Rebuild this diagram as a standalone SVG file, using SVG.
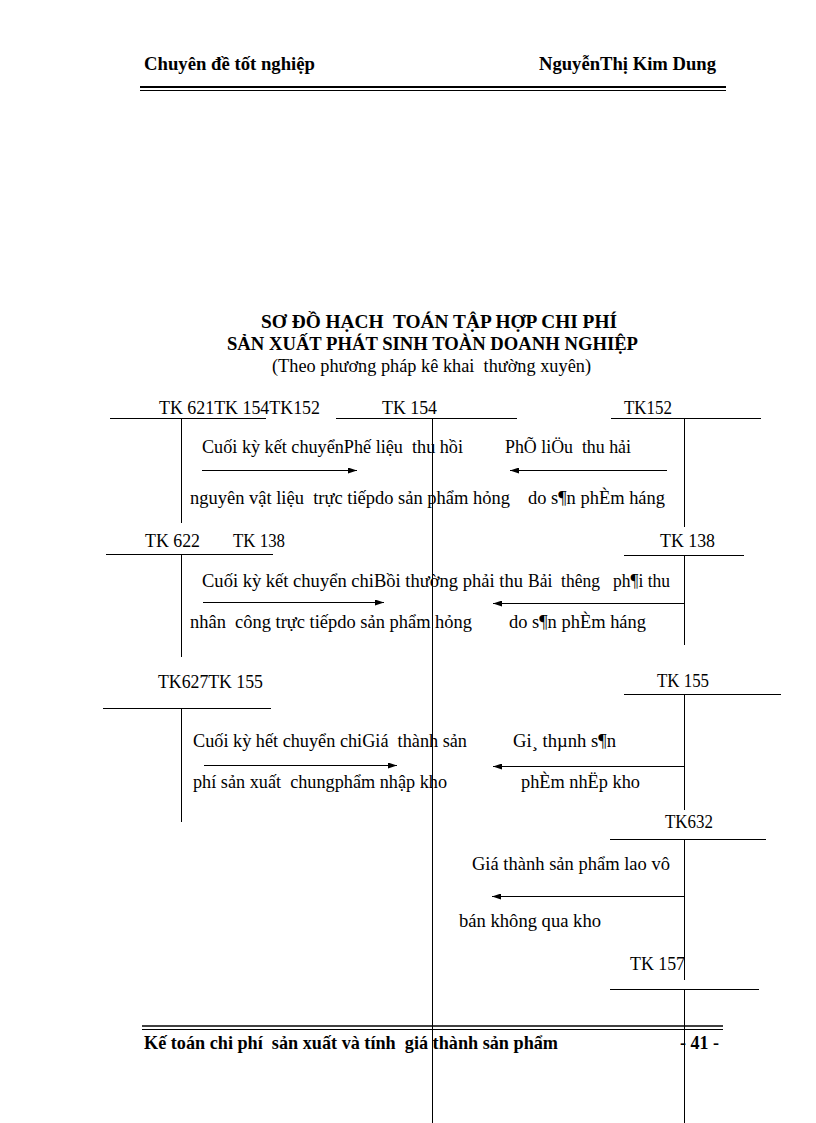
<svg xmlns="http://www.w3.org/2000/svg" width="816" height="1123" viewBox="0 0 816 1123">
<style>
text { fill: #000; white-space: pre; }
.b { font-weight: bold; font-size: 19px; }
.t { font-weight: bold; font-size: 18px; }
.r { font-size: 18px; }
.ln { stroke: #000; stroke-width: 1; fill: none; }
.ar { stroke: #000; stroke-width: 1; fill: none; marker-end: url(#ah); }
</style>
<defs>
<marker id="ah" markerWidth="9" markerHeight="6" refX="9" refY="3" orient="auto" markerUnits="userSpaceOnUse"><path d="M0,0 L9,3 L0,6 z" fill="#000"/></marker>
</defs>
<rect width="816" height="1123" fill="#fff"/>
<g font-family="'Liberation Serif', 'DejaVu Serif', serif">
<g id="header">
<text class="b" x="144" y="70" textLength="171" lengthAdjust="spacingAndGlyphs">Chuyên đề tốt nghiệp</text>
<text class="b" x="539" y="70" textLength="177" lengthAdjust="spacingAndGlyphs">NguyễnThị Kim Dung</text>
<line x1="140" y1="87" x2="726" y2="87" stroke="#000" stroke-width="2"/>
<line x1="140" y1="90.5" x2="726" y2="90.5" stroke="#000" stroke-width="1"/>
</g>
<g id="title">
<text class="t" x="261" y="328" textLength="356" lengthAdjust="spacingAndGlyphs">SƠ ĐỒ HẠCH  TOÁN TẬP HỢP CHI PHÍ</text>
<text class="t" x="227" y="350" textLength="411" lengthAdjust="spacingAndGlyphs">SẢN XUẤT PHÁT SINH TOÀN DOANH NGHIỆP</text>
<text class="r" x="272" y="372" textLength="319" lengthAdjust="spacingAndGlyphs">(Theo phương pháp kê khai  thường xuyên)</text>
</g>
<g id="tk621">
<line class="ln" x1="110" y1="418.5" x2="266" y2="418.5"/>
<line class="ln" x1="181.5" y1="418" x2="181.5" y2="523"/>
<text class="r" x="159" y="414" textLength="161" lengthAdjust="spacingAndGlyphs">TK 621TK 154TK152</text>
</g>
<g id="tk154">
<line class="ln" x1="336" y1="418.5" x2="517" y2="418.5"/>
<line class="ln" x1="432.5" y1="418" x2="432.5" y2="1123"/>
<text class="r" x="382" y="414" textLength="55" lengthAdjust="spacingAndGlyphs">TK 154</text>
</g>
<g id="tk152">
<line class="ln" x1="611" y1="418.5" x2="761" y2="418.5"/>
<line class="ln" x1="684.5" y1="418" x2="684.5" y2="527"/>
<text class="r" x="624" y="414" textLength="48" lengthAdjust="spacingAndGlyphs">TK152</text>
</g>
<g id="tk622">
<line class="ln" x1="106" y1="554.5" x2="273" y2="554.5"/>
<line class="ln" x1="181.5" y1="554" x2="181.5" y2="657"/>
<text class="r" x="145" y="547" textLength="55" lengthAdjust="spacingAndGlyphs">TK 622</text>
<text class="r" x="233" y="547" textLength="52" lengthAdjust="spacingAndGlyphs">TK 138</text>
</g>
<g id="tk138">
<line class="ln" x1="624" y1="555.5" x2="744" y2="555.5"/>
<line class="ln" x1="684.5" y1="555" x2="684.5" y2="645"/>
<text class="r" x="660" y="547" textLength="55" lengthAdjust="spacingAndGlyphs">TK 138</text>
</g>
<g id="tk627">
<line class="ln" x1="103" y1="708.5" x2="271" y2="708.5"/>
<line class="ln" x1="181.5" y1="708" x2="181.5" y2="822"/>
<text class="r" x="158" y="688" textLength="105" lengthAdjust="spacingAndGlyphs">TK627TK 155</text>
</g>
<g id="tk155">
<line class="ln" x1="624" y1="694.5" x2="781" y2="694.5"/>
<line class="ln" x1="684.5" y1="694" x2="684.5" y2="810"/>
<text class="r" x="657" y="687" textLength="52" lengthAdjust="spacingAndGlyphs">TK 155</text>
</g>
<g id="tk632">
<line class="ln" x1="610" y1="839.5" x2="766" y2="839.5"/>
<line class="ln" x1="684.5" y1="839" x2="684.5" y2="980"/>
<text class="r" x="665" y="828" textLength="48" lengthAdjust="spacingAndGlyphs">TK632</text>
</g>
<g id="tk157">
<line class="ln" x1="610" y1="989.5" x2="759" y2="989.5"/>
<line class="ln" x1="684.5" y1="990" x2="684.5" y2="1123"/>
<text class="r" x="630" y="970" textLength="55" lengthAdjust="spacingAndGlyphs">TK 157</text>
</g>
<g id="connectors">
<line class="ar" x1="202" y1="470.5" x2="357" y2="470.5"/>
<line class="ar" x1="667" y1="470.5" x2="510" y2="470.5"/>
<line class="ar" x1="203" y1="602.5" x2="384" y2="602.5"/>
<line class="ar" x1="684" y1="603.5" x2="493" y2="603.5"/>
<line class="ar" x1="204" y1="765.5" x2="397" y2="765.5"/>
<line class="ar" x1="684" y1="766.5" x2="493" y2="766.5"/>
<line class="ar" x1="684" y1="896.5" x2="492" y2="896.5"/>
</g>
<g id="labels">
<text class="r" x="202" y="453" textLength="261" lengthAdjust="spacingAndGlyphs">Cuối kỳ kết chuyểnPhế liệu  thu hồi</text>
<text class="r" x="505" y="453" textLength="126" lengthAdjust="spacingAndGlyphs">PhÕ liÖu  thu hải</text>
<text class="r" x="190" y="504" textLength="320" lengthAdjust="spacingAndGlyphs">nguyên vật liệu  trực tiếpdo sản phẩm hỏng</text>
<text class="r" x="528" y="504" textLength="137" lengthAdjust="spacingAndGlyphs">do s¶n phÈm háng</text>
<text class="r" x="202" y="587" textLength="321" lengthAdjust="spacingAndGlyphs">Cuối kỳ kết chuyển chiBồi thường phải thu</text>
<text class="r" x="528" y="587" textLength="142" lengthAdjust="spacingAndGlyphs">Bải  thêng   ph¶i thu</text>
<text class="r" x="190" y="628" textLength="282" lengthAdjust="spacingAndGlyphs">nhân  công trực tiếpdo sản phẩm hỏng</text>
<text class="r" x="509" y="628" textLength="137" lengthAdjust="spacingAndGlyphs">do s¶n phÈm háng</text>
<text class="r" x="193" y="747" textLength="274" lengthAdjust="spacingAndGlyphs">Cuối kỳ hết chuyển chiGiá  thành sản</text>
<text class="r" x="513" y="747" textLength="103" lengthAdjust="spacingAndGlyphs">Gi¸ thµnh s¶n</text>
<text class="r" x="193" y="788" textLength="254" lengthAdjust="spacingAndGlyphs">phí sản xuất  chungphẩm nhập kho</text>
<text class="r" x="521" y="788" textLength="119" lengthAdjust="spacingAndGlyphs">phÈm nhËp kho</text>
<text class="r" x="472" y="870" textLength="198" lengthAdjust="spacingAndGlyphs">Giá thành sản phẩm lao vô</text>
<text class="r" x="459" y="927" textLength="142" lengthAdjust="spacingAndGlyphs">bán không qua kho</text>
</g>
<g id="footer">
<line x1="142" y1="1026" x2="723" y2="1026" stroke="#000" stroke-width="1.5"/>
<line x1="142" y1="1029.5" x2="723" y2="1029.5" stroke="#000" stroke-width="1"/>
<text class="b" x="144" y="1049" textLength="414" lengthAdjust="spacingAndGlyphs">Kế toán chi phí  sản xuất và tính  giá thành sản phẩm</text>
<text class="b" x="680" y="1049" textLength="39" lengthAdjust="spacingAndGlyphs">- 41 -</text>
</g>
</g>
</svg>
